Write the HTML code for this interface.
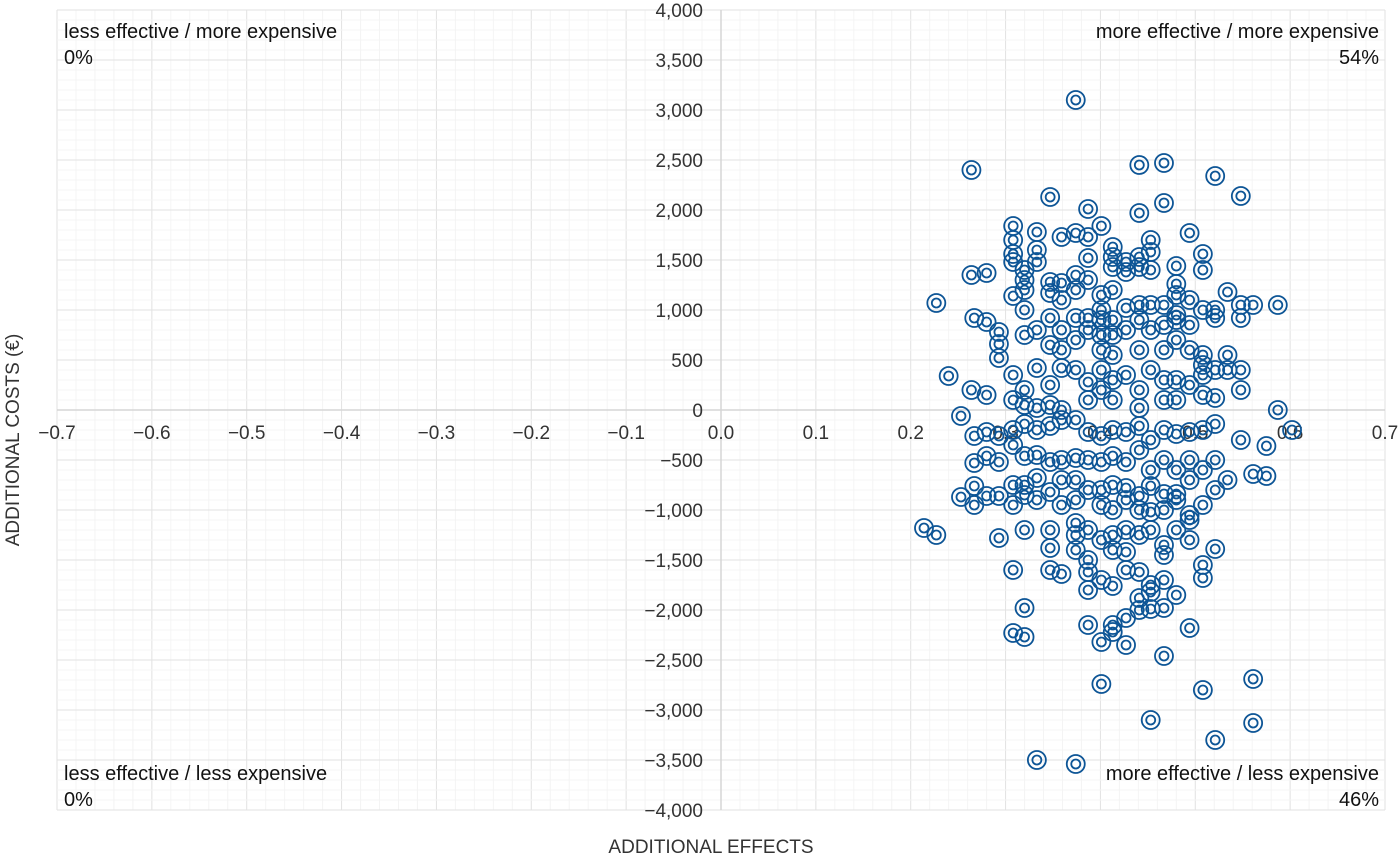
<!DOCTYPE html>
<html><head><meta charset="utf-8">
<style>
html,body{margin:0;padding:0;background:#fff;}
svg{display:block;font-family:"Liberation Sans",sans-serif;}
</style></head>
<body>
<svg id="chart" width="1400" height="859" viewBox="0 0 1400 859" xmlns="http://www.w3.org/2000/svg">
<g id="grid"></g>
<g id="axes"></g>
<g id="points"></g>
<g font-size="20" fill="#111">
<text x="64" y="38">less effective / more expensive</text>
<text x="64" y="64">0%</text>
<text x="1379" y="38" text-anchor="end">more effective / more expensive</text>
<text x="1379" y="64" text-anchor="end">54%</text>
<text x="64" y="780">less effective / less expensive</text>
<text x="64" y="806">0%</text>
<text x="1379" y="780" text-anchor="end">more effective / less expensive</text>
<text x="1379" y="806" text-anchor="end">46%</text>
</g>
<text x="711" y="853" text-anchor="middle" font-size="19" fill="#333">ADDITIONAL EFFECTS</text>
<text transform="translate(19,440) rotate(-90)" text-anchor="middle" font-size="19" fill="#333">ADDITIONAL COSTS (€)</text>
</svg>
<script>
const xTicks=[-0.7,-0.6,-0.5,-0.4,-0.3,-0.2,-0.1,0.0,0.1,0.2,0.3,0.4,0.5,0.6,0.7];
const yTicks=[4000,3500,3000,2500,2000,1500,1000,500,0,-500,-1000,-1500,-2000,-2500,-3000,-3500,-4000];
const effects=[.374,.264,.441,.467,.521,.548,.347,.387,.441,.467,.494,.308,.308,.333,.359,.374,.387,.401,.413,.413,.413,.427,.427,.441,.441,.453,.453,.453,.480,.480,.508,.508,.308,.308,.320,.320,.320,.333,.333,.347,.347,.359,.359,.374,.374,.387,.387,.401,.401,.413,.413,.427,.441,.453,.467,.480,.480,.494,.508,.521,.521,.534,.548,.548,.561,.587,.227,.264,.280,.267,.280,.293,.293,.308,.320,.320,.333,.347,.347,.359,.359,.374,.374,.387,.387,.401,.401,.401,.413,.413,.427,.441,.441,.453,.467,.467,.480,.480,.494,.494,.508,.508,.534,.548,.521,.240,.293,.308,.308,.320,.333,.347,.359,.374,.387,.401,.401,.413,.413,.427,.441,.441,.453,.467,.480,.480,.494,.508,.508,.521,.534,.548,.280,.264,.320,.333,.347,.359,.387,.467,.587,.602,.575,.548,.253,.267,.280,.293,.308,.320,.333,.347,.359,.374,.387,.401,.413,.427,.441,.453,.467,.480,.494,.508,.521,.267,.280,.293,.308,.320,.333,.347,.359,.374,.387,.401,.413,.427,.441,.453,.467,.480,.494,.508,.521,.534,.561,.575,.253,.267,.280,.293,.308,.320,.333,.347,.359,.374,.387,.401,.413,.427,.441,.453,.467,.480,.494,.521,.267,.308,.320,.333,.359,.374,.401,.413,.427,.441,.453,.467,.480,.494,.508,.214,.227,.293,.320,.347,.374,.374,.387,.401,.413,.427,.441,.453,.467,.480,.494,.494,.521,.374,.347,.387,.413,.427,.467,.387,.308,.347,.359,.401,.427,.441,.453,.467,.480,.508,.508,.387,.413,.453,.441,.441,.427,.467,.453,.320,.413,.387,.308,.320,.401,.413,.427,.467,.494,.401,.508,.561,.453,.561,.521,.333,.374];
const costs=[3100,2400,2450,2470,2340,2140,2130,2010,1970,2070,1770,1840,1700,1780,1730,1770,1730,1840,1630,1530,1430,1480,1380,1530,1430,1700,1580,1400,1440,1260,1560,1400,1560,1480,1400,1300,1200,1600,1480,1280,1170,1270,1100,1350,1200,1520,1300,1150,1000,1200,900,1020,1050,1050,1050,1150,950,1100,1000,1000,920,1180,1050,920,1050,1050,1070,1350,1370,920,880,780,660,1140,1000,750,800,920,650,800,600,920,700,920,800,900,750,600,750,550,800,900,600,800,850,600,900,700,850,600,550,450,550,400,400,340,520,350,100,200,420,250,420,400,280,400,200,300,100,350,200,20,400,300,300,100,250,350,150,120,400,200,150,200,50,20,50,0,100,100,0,-200,-360,-300,-60,-260,-220,-260,-200,-140,-200,-160,-100,-100,-220,-260,-200,-220,-160,-300,-200,-240,-220,-200,-140,-530,-460,-520,-350,-460,-450,-520,-500,-480,-500,-520,-460,-520,-400,-600,-500,-600,-500,-600,-500,-700,-640,-660,-870,-760,-860,-860,-750,-750,-680,-820,-700,-700,-800,-800,-750,-780,-860,-760,-840,-840,-700,-800,-950,-950,-850,-900,-950,-900,-950,-1000,-900,-1000,-1020,-1000,-900,-1050,-950,-1180,-1250,-1280,-1200,-1200,-1130,-1250,-1200,-1300,-1250,-1200,-1250,-1200,-1350,-1200,-1100,-1300,-1390,-1400,-1380,-1500,-1400,-1420,-1450,-1620,-1600,-1600,-1640,-1700,-1600,-1620,-1750,-1700,-1850,-1550,-1680,-1800,-1760,-1820,-1880,-2000,-2080,-1980,-1990,-1980,-2150,-2150,-2230,-2270,-2320,-2220,-2350,-2460,-2180,-2740,-2800,-2690,-3100,-3130,-3300,-3500,-3540];

const NS='http://www.w3.org/2000/svg';
const L=57,R=1385,T=10,B=810;
const xs=v=>L+(v+0.7)/1.4*(R-L);
const ys=v=>T+(4000-v)/8000*(B-T);
function mk(tag,attrs,parent){const e=document.createElementNS(NS,tag);for(const k in attrs)e.setAttribute(k,attrs[k]);parent.appendChild(e);return e;}
const grid=document.getElementById('grid'),axes=document.getElementById('axes'),pts=document.getElementById('points');
for(let i=0;i<=70;i++){const x=xs(-0.7+i*0.02);
const ln=mk('line',{x1:x,x2:x,y1:T,y2:B,stroke:i%5?'#f4f4f4':'#e2e2e2','stroke-width':1},grid);

}
for(let i=0;i<=80;i++){const y=ys(4000-i*100);
const ln=mk('line',{x1:L,x2:R,y1:y,y2:y,stroke:i%5?'#f4f4f4':'#e2e2e2','stroke-width':1},grid);

}
const xa=mk('line',{x1:L,x2:R,y1:ys(0),y2:ys(0),stroke:'#d6d6d6','stroke-width':1.5},axes);


const ya=mk('line',{x1:xs(0),x2:xs(0),y1:T,y2:B,stroke:'#d6d6d6','stroke-width':1.5},axes);


xTicks.forEach(v=>{const t=mk('text',{x:xs(v),y:ys(0)+29,'text-anchor':'middle','font-size':19,fill:'#333'},axes);
t.textContent=(v<0?'\u2212':'')+Math.abs(v).toFixed(1);

});
yTicks.forEach(v=>{const t=mk('text',{x:xs(0)-18,y:ys(v)+7,'text-anchor':'end','font-size':19,fill:'#333'},axes);
t.textContent=(v<0?'\u2212':'')+Math.abs(v).toLocaleString('en-US');

});
effects.forEach((e,i)=>{const g=mk('g',{},pts);


mk('circle',{cx:xs(e),cy:ys(costs[i]),r:9,fill:'none',stroke:'#0d5596','stroke-width':1.8},g);
mk('circle',{cx:xs(e),cy:ys(costs[i]),r:4.5,fill:'none',stroke:'#0d5596','stroke-width':1.8},g);});
</script>
</body></html>
